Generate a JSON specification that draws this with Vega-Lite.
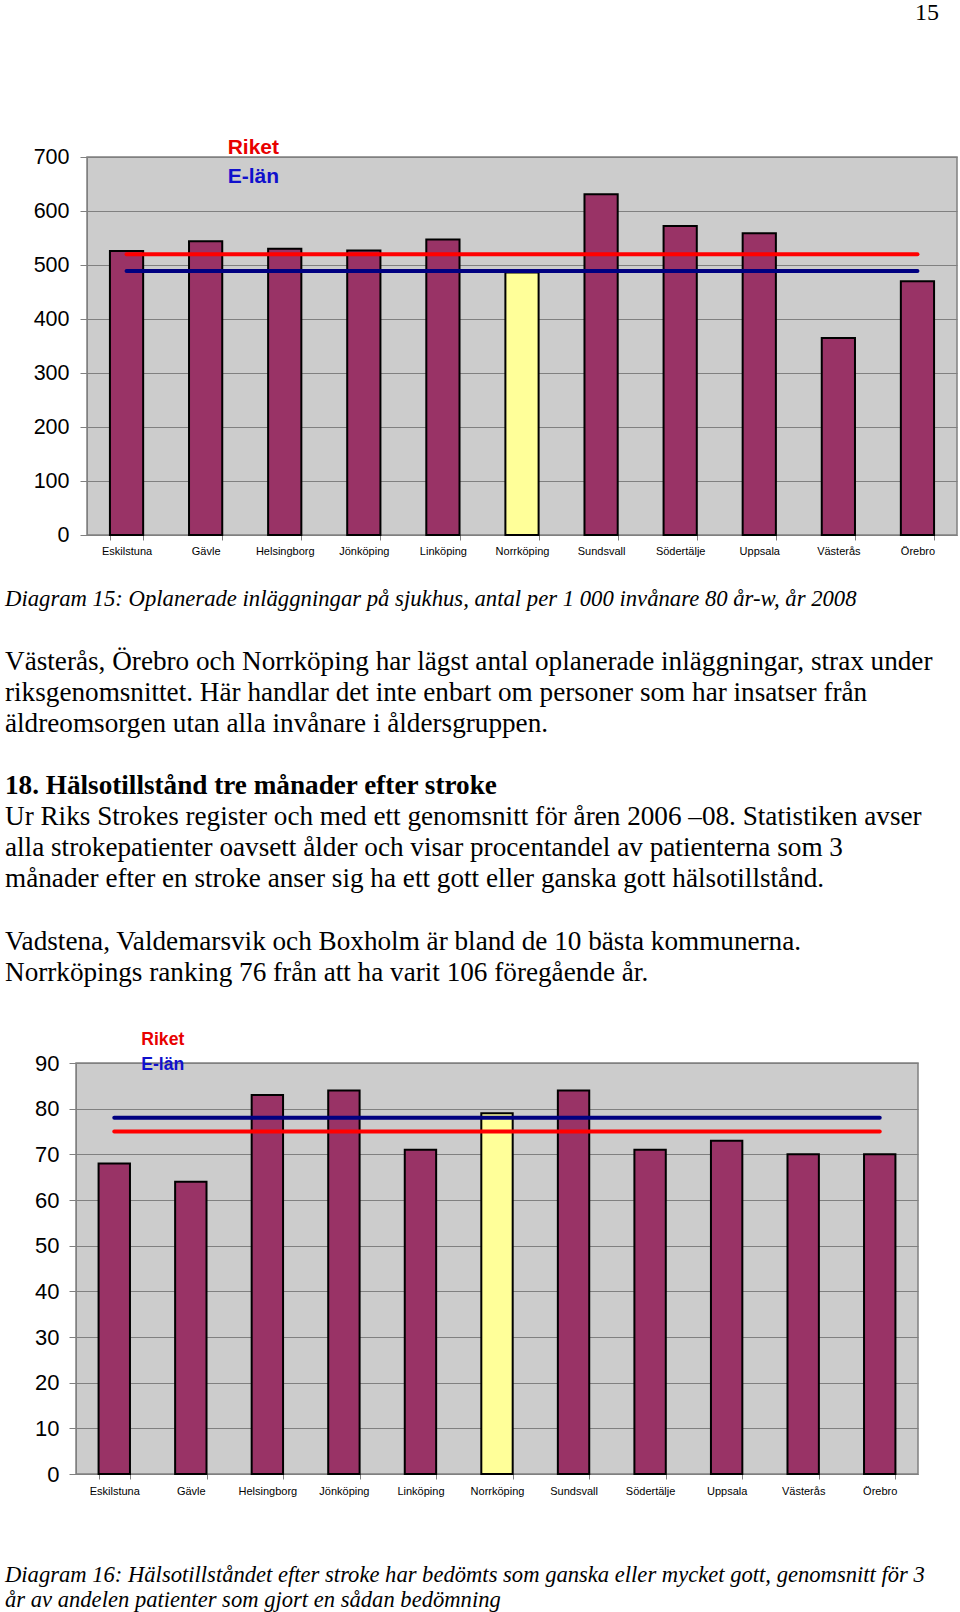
{
  "$schema": "https://vega.github.io/schema/vega-lite/v6.json",
  "background": "white",
  "padding": {"left": 4, "top": 0, "right": 0, "bottom": 0},
  "columns": 2,
  "align": "none",
  "spacing": 0,
  "config": {
    "font": "Liberation Sans",
    "axis": {"labelColor": "black", "title": null}
  },
  "datasets": {
    "empty": [],
    "c1bars": [
      {"city": "Eskilstuna", "value": 526},
      {"city": "Gävle", "value": 544},
      {"city": "Helsingborg", "value": 530},
      {"city": "Jönköping", "value": 527},
      {"city": "Linköping", "value": 547},
      {"city": "Norrköping", "value": 486},
      {"city": "Sundsvall", "value": 631},
      {"city": "Södertälje", "value": 572},
      {"city": "Uppsala", "value": 559},
      {"city": "Västerås", "value": 365},
      {"city": "Örebro", "value": 470}
    ],
    "c1lines": [
      {"series": "Riket", "value": 520},
      {"series": "E-län", "value": 489}
    ],
    "c2bars": [
      {"city": "Eskilstuna", "value": 68},
      {"city": "Gävle", "value": 64},
      {"city": "Helsingborg", "value": 83},
      {"city": "Jönköping", "value": 84},
      {"city": "Linköping", "value": 71},
      {"city": "Norrköping", "value": 79},
      {"city": "Sundsvall", "value": 84},
      {"city": "Södertälje", "value": 71},
      {"city": "Uppsala", "value": 73},
      {"city": "Västerås", "value": 70},
      {"city": "Örebro", "value": 70}
    ],
    "c2lines": [
      {"series": "Riket", "value": 75},
      {"series": "E-län", "value": 78}
    ],
    "text1": [
      {"line": 0, "kind": "caption", "text": "Diagram 15: Oplanerade inläggningar på sjukhus, antal per 1 000 invånare 80 år-w, år 2008"},
      {"line": 2, "kind": "body", "text": "Västerås, Örebro och Norrköping har lägst antal oplanerade inläggningar, strax under"},
      {"line": 3, "kind": "body", "text": "riksgenomsnittet. Här handlar det inte enbart om personer som har insatser från"},
      {"line": 4, "kind": "body", "text": "äldreomsorgen utan alla invånare i åldersgruppen."},
      {"line": 6, "kind": "heading", "text": "18. Hälsotillstånd tre månader efter stroke"},
      {"line": 7, "kind": "body", "text": "Ur Riks Strokes register och med ett genomsnitt för åren 2006 –08. Statistiken avser"},
      {"line": 8, "kind": "body", "text": "alla strokepatienter oavsett ålder och visar procentandel av patienterna som 3"},
      {"line": 9, "kind": "body", "text": "månader efter en stroke anser sig ha ett gott eller ganska gott hälsotillstånd."},
      {"line": 11, "kind": "body", "text": "Vadstena, Valdemarsvik och Boxholm är bland de 10 bästa kommunerna."},
      {"line": 12, "kind": "body", "text": "Norrköpings ranking 76 från att ha varit 106 föregående år."}
    ],
    "text2": [
      {"line": 0, "text": "Diagram 16: Hälsotillståndet efter stroke har bedömts som ganska eller mycket gott, genomsnitt för 3"},
      {"line": 1, "text": "år av andelen patienter som gjort en sådan bedömning"}
    ]
  },
  "concat": [
    {"width": 1, "height": 1, "view": {"stroke": null}, "data": {"name": "empty"}, "mark": "point"},
    {
      "width": 870,
      "height": 378,
      "view": {"fill": "#CCCCCC", "stroke": "#808080", "strokeWidth": 1.5},
      "title": {
        "text": "15",
        "orient": "top",
        "anchor": "end",
        "frame": "bounds",
        "font": "Liberation Serif",
        "fontSize": 24,
        "fontWeight": "normal",
        "color": "black",
        "offset": 112,
        "dx": -18
      },
      "layer": [
        {
          "data": {"name": "c1bars"},
          "mark": {"type": "bar", "stroke": "black", "strokeWidth": 2},
          "encoding": {
            "x": {
              "field": "city", "type": "nominal",
              "scale": {"domain": ["Eskilstuna", "Gävle", "Helsingborg", "Jönköping", "Linköping", "Norrköping", "Sundsvall", "Södertälje", "Uppsala", "Västerås", "Örebro"], "paddingInner": 0.58, "paddingOuter": 0.29},
              "axis": {"title": null, "labelAngle": 0, "labelFont": "Liberation Sans", "labelFontSize": 11, "labelColor": "black", "labelPadding": 5, "tickBand": "extent", "tickSize": 5, "tickColor": "#808080", "domainColor": "#808080", "grid": false, "labelLimit": 0}
            },
            "y": {
              "field": "value", "type": "quantitative",
              "scale": {"domain": [0, 700], "nice": false},
              "axis": {"title": null, "values": [0, 100, 200, 300, 400, 500, 600, 700], "grid": true, "gridColor": "#808080", "gridWidth": 1, "tickColor": "#808080", "tickSize": 7, "domainColor": "#808080", "labelFont": "Liberation Sans", "labelFontSize": 21.5, "labelColor": "black", "labelPadding": 11, "labelFlush": false, "labelOverlap": false, "minExtent": 81, "maxExtent": 200}
            },
            "fill": {"condition": {"test": "datum.city === 'Norrköping'", "value": "#FFFF99"}, "value": "#993366"}
          }
        },
        {
          "data": {"name": "c1lines"},
          "mark": {"type": "rule", "strokeWidth": 4, "strokeCap": "round"},
          "encoding": {
            "x": {"datum": "Eskilstuna", "type": "nominal"},
            "x2": {"datum": "Örebro"},
            "y": {"field": "value", "type": "quantitative"},
            "color": {"field": "series", "type": "nominal", "scale": {"domain": ["Riket", "E-län"], "range": ["#FF0000", "#000080"]}, "legend": null}
          }
        },
        {
          "data": {"name": "c1lines"},
          "transform": [{"filter": "datum.series === 'Riket'"}],
          "mark": {"type": "text", "align": "left", "baseline": "middle", "dx": 22, "dy": -9, "font": "Liberation Sans", "fontWeight": "bold", "fontSize": 21, "fill": "#E80000"},
          "encoding": {
            "x": {"datum": "Gävle", "type": "nominal"},
            "y": {"datum": 700, "type": "quantitative"},
            "text": {"field": "series"}
          }
        },
        {
          "data": {"name": "c1lines"},
          "transform": [{"filter": "datum.series === 'E-län'"}],
          "mark": {"type": "text", "align": "left", "baseline": "middle", "dx": 22, "dy": 19.5, "font": "Liberation Sans", "fontWeight": "bold", "fontSize": 21, "fill": "#1010CC"},
          "encoding": {
            "x": {"datum": "Gävle", "type": "nominal"},
            "y": {"datum": 700, "type": "quantitative"},
            "text": {"field": "series"}
          }
        }
      ]
    },
    {"width": 1, "height": 1, "view": {"stroke": null}, "data": {"name": "empty"}, "mark": "point"},
    {
      "width": 950,
      "height": 472.2,
      "view": {"stroke": null},
      "data": {"name": "text1"},
      "encoding": {
        "x": {"datum": 0, "type": "quantitative", "scale": {"domain": [0, 1]}, "axis": null},
        "y": {"field": "line", "type": "quantitative", "scale": {"domain": [-1.365, 13.818], "reverse": true, "nice": false, "zero": false}, "axis": null},
        "text": {"field": "text"}
      },
      "layer": [
        {
          "transform": [{"filter": "datum.kind === 'caption'"}],
          "mark": {"type": "text", "align": "left", "baseline": "middle", "font": "Liberation Serif", "fontStyle": "italic", "fontSize": 22.7, "fill": "black"}
        },
        {
          "transform": [{"filter": "datum.kind === 'body'"}],
          "mark": {"type": "text", "align": "left", "baseline": "middle", "font": "Liberation Serif", "fontSize": 27.2, "fill": "black"}
        },
        {
          "transform": [{"filter": "datum.kind === 'heading'"}],
          "mark": {"type": "text", "align": "left", "baseline": "middle", "font": "Liberation Serif", "fontWeight": "bold", "fontSize": 27.2, "fill": "black"}
        }
      ]
    },
    {"width": 1, "height": 1, "view": {"stroke": null}, "data": {"name": "empty"}, "mark": "point"},
    {
      "width": 842,
      "height": 411,
      "view": {"fill": "#CCCCCC", "stroke": "#808080", "strokeWidth": 1.5},
      "layer": [
        {
          "data": {"name": "c2bars"},
          "mark": {"type": "bar", "stroke": "black", "strokeWidth": 2},
          "encoding": {
            "x": {
              "field": "city", "type": "nominal",
              "scale": {"domain": ["Eskilstuna", "Gävle", "Helsingborg", "Jönköping", "Linköping", "Norrköping", "Sundsvall", "Södertälje", "Uppsala", "Västerås", "Örebro"], "paddingInner": 0.59, "paddingOuter": 0.295},
              "axis": {"title": null, "labelAngle": 0, "labelFont": "Liberation Sans", "labelFontSize": 11, "labelColor": "black", "labelPadding": 6.5, "tickBand": "extent", "tickSize": 5, "tickColor": "#808080", "domainColor": "#808080", "grid": false, "labelLimit": 0}
            },
            "y": {
              "field": "value", "type": "quantitative",
              "scale": {"domain": [0, 90], "nice": false},
              "axis": {"title": null, "values": [0, 10, 20, 30, 40, 50, 60, 70, 80, 90], "grid": true, "gridColor": "#808080", "gridWidth": 1, "tickColor": "#808080", "tickSize": 7, "domainColor": "#808080", "labelFont": "Liberation Sans", "labelFontSize": 22, "labelColor": "black", "labelPadding": 10, "labelFlush": false, "labelOverlap": false, "minExtent": 70, "maxExtent": 200}
            },
            "fill": {"condition": {"test": "datum.city === 'Norrköping'", "value": "#FFFF99"}, "value": "#993366"}
          }
        },
        {
          "data": {"name": "c2lines"},
          "mark": {"type": "rule", "strokeWidth": 4, "strokeCap": "round"},
          "encoding": {
            "x": {"datum": "Eskilstuna", "type": "nominal"},
            "x2": {"datum": "Örebro"},
            "y": {"field": "value", "type": "quantitative"},
            "color": {"field": "series", "type": "nominal", "scale": {"domain": ["Riket", "E-län"], "range": ["#FF0000", "#000080"]}, "legend": null}
          }
        },
        {
          "data": {"name": "c2lines"},
          "transform": [{"filter": "datum.series === 'Riket'"}],
          "mark": {"type": "text", "align": "left", "baseline": "middle", "dx": 27, "dy": -23, "font": "Liberation Sans", "fontWeight": "bold", "fontSize": 17.6, "fill": "#E80000"},
          "encoding": {
            "x": {"datum": "Eskilstuna", "type": "nominal"},
            "y": {"datum": 90, "type": "quantitative"},
            "text": {"field": "series"}
          }
        },
        {
          "data": {"name": "c2lines"},
          "transform": [{"filter": "datum.series === 'E-län'"}],
          "mark": {"type": "text", "align": "left", "baseline": "middle", "dx": 27, "dy": 1.7, "font": "Liberation Sans", "fontWeight": "bold", "fontSize": 17.6, "fill": "#1010CC"},
          "encoding": {
            "x": {"datum": "Eskilstuna", "type": "nominal"},
            "y": {"datum": 90, "type": "quantitative"},
            "text": {"field": "series"}
          }
        }
      ]
    },
    {"width": 1, "height": 1, "view": {"stroke": null}, "data": {"name": "empty"}, "mark": "point"},
    {
      "width": 950,
      "height": 119.5,
      "view": {"stroke": null},
      "data": {"name": "text2"},
      "mark": {"type": "text", "align": "left", "baseline": "middle", "font": "Liberation Serif", "fontStyle": "italic", "fontSize": 22.6, "fill": "black"},
      "encoding": {
        "x": {"datum": 0, "type": "quantitative", "scale": {"domain": [0, 1]}, "axis": null},
        "y": {"field": "line", "type": "quantitative", "scale": {"domain": [-3.08, 1.70], "reverse": true, "nice": false, "zero": false}, "axis": null},
        "text": {"field": "text"}
      }
    }
  ]
}
